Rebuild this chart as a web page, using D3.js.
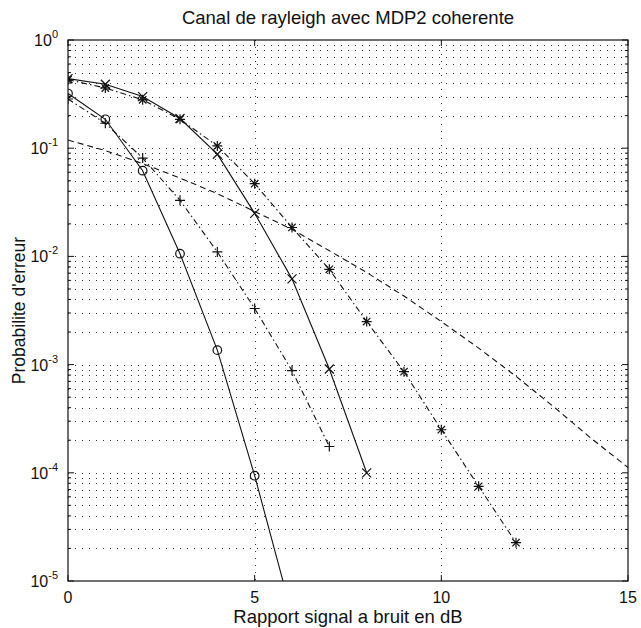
<!DOCTYPE html>
<html>
<head>
<meta charset="utf-8">
<script src="https://cdn.jsdelivr.net/npm/d3@7"></script>
<style>
  body { margin: 0; background: #fff; }
  text { font-family: "Liberation Sans", Arial, Helvetica, sans-serif; fill: #111; }
</style>
</head>
<body>
<div id="chart"></div>
<script>
// semilogy BER curves
var title = "Canal de rayleigh avec MDP2 coherente";
var xTitle = "Rapport signal a bruit en dB";
var yTitle = "Probabilite d'erreur";

var xTicks = [0, 5, 10, 15];
var yExp = [0, -1, -2, -3, -4, -5];

// solid, circles
var snrO = [0, 1, 2, 3, 4, 5, 6];
var berO = [0.32, 0.185, 0.062, 0.0106, 0.00136, 0.000094, 0.0000049];
// dash-dot, plus
var snrP = [0, 1, 2, 3, 4, 5, 6, 7];
var berP = [0.285, 0.17, 0.081, 0.033, 0.011, 0.0033, 0.00088, 0.000175];
// solid, crosses
var snrX = [0, 1, 2, 3, 4, 5, 6, 7, 8];
var berX = [0.44, 0.39, 0.30, 0.188, 0.088, 0.025, 0.0062, 0.00091, 0.0001];
// dash-dot, stars
var snrS = [0, 1, 2, 3, 4, 5, 6, 7, 8, 9, 10, 11, 12];
var berS = [0.43, 0.36, 0.28, 0.185, 0.105, 0.047, 0.0185, 0.0076, 0.0025, 0.00086, 0.00025, 0.000075, 0.0000226];
// dashed, no marker
var snrD = [0, 1, 2, 3, 4, 5, 6, 7, 8, 9, 10, 11, 12, 13, 14, 15];
var berD = [0.119, 0.095, 0.072, 0.053, 0.038, 0.026, 0.0178, 0.0113, 0.0071, 0.0043, 0.0025, 0.00142, 0.00078, 0.00041, 0.00021, 0.000112];

var W = 641, H = 628;
var margin = {left: 68, right: 13, top: 40, bottom: 47};
var iw = W - margin.left - margin.right, ih = H - margin.top - margin.bottom;

var svg = d3.select("#chart").append("svg").attr("width", W).attr("height", H);
var g = svg.append("g").attr("transform", "translate(" + margin.left + "," + margin.top + ")");

var x = d3.scaleLinear().domain([0, 15]).range([0, iw]);
var y = d3.scaleLog().domain([1e-5, 1]).range([ih, 0]);

// minor + major log positions
var yAll = [];
for (var e = -5; e < 0; e++) {
  for (var m = 1; m < 10; m++) yAll.push(m * Math.pow(10, e));
}
yAll.push(1);
var yMinor = yAll.filter(function(v) { return Math.abs(Math.log10(v) - Math.round(Math.log10(v))) > 1e-6; });

// grid
var grid = g.append("g").attr("stroke", "#333").attr("stroke-width", 1).attr("stroke-dasharray", "1,6");
grid.selectAll("line.h").data(yAll.filter(function(v) { return v > 1e-5 && v < 1; })).enter().append("line")
  .attr("x1", 0).attr("x2", iw)
  .attr("y1", function(d) { return Math.round(y(d)) + 0.5; })
  .attr("y2", function(d) { return Math.round(y(d)) + 0.5; });
grid.selectAll("line.v").data([5, 10]).enter().append("line")
  .attr("y1", 0).attr("y2", ih)
  .attr("x1", function(d) { return Math.round(x(d)) + 0.5; })
  .attr("x2", function(d) { return Math.round(x(d)) + 0.5; });

// clip for the curves
g.append("clipPath").attr("id", "clip").append("rect").attr("width", iw).attr("height", ih);
var plot = g.append("g").attr("clip-path", "url(#clip)");

var line = d3.line().x(function(d) { return x(d[0]); }).y(function(d) { return y(d[1]); });

function series(xs, ys, dash, marker) {
  var pts = d3.zip(xs, ys);
  plot.append("path").datum(pts).attr("d", line)
    .attr("fill", "none").attr("stroke", "#111").attr("stroke-width", 1.1)
    .attr("stroke-dasharray", dash);
  if (!marker) return;
  var mk = plot.selectAll(null).data(pts.filter(function(p) { return p[1] >= 1e-5; })).enter().append("g")
    .attr("transform", function(d) { return "translate(" + x(d[0]) + "," + y(d[1]) + ")"; })
    .attr("stroke", "#111").attr("stroke-width", 1.2).attr("fill", "none");
  var s = 5;
  if (marker === "o") mk.append("circle").attr("r", 4.3);
  if (marker === "+" || marker === "*") mk.append("path").attr("d", "M" + (-s) + ",0H" + s + "M0," + (-s) + "V" + s);
  if (marker === "x" || marker === "*") {
    var t = marker === "*" ? 3.7 : 4.5;
    mk.append("path").attr("d", "M" + (-t) + "," + (-t) + "L" + t + "," + t + "M" + (-t) + "," + t + "L" + t + "," + (-t));
  }
}

series(snrD, berD, "6,4", null);
series(snrS, berS, "6,3,1.5,3", "*");
series(snrX, berX, null, "x");
series(snrP, berP, "6,3,1.5,3", "+");
series(snrO, berO, null, "o");

// box
g.append("rect").attr("width", iw).attr("height", ih).attr("fill", "none").attr("stroke", "#111").attr("stroke-width", 1.2);

// ticks, inside on all sides
var tk = g.append("g").attr("stroke", "#111").attr("stroke-width", 1);
xTicks.forEach(function(v) {
  tk.append("line").attr("x1", x(v)).attr("x2", x(v)).attr("y1", ih).attr("y2", ih - 6);
  tk.append("line").attr("x1", x(v)).attr("x2", x(v)).attr("y1", 0).attr("y2", 6);
});
yExp.forEach(function(e) {
  var v = Math.pow(10, e);
  tk.append("line").attr("x1", 0).attr("x2", 6).attr("y1", y(v)).attr("y2", y(v));
  tk.append("line").attr("x1", iw).attr("x2", iw - 6).attr("y1", y(v)).attr("y2", y(v));
});
yMinor.forEach(function(v) {
  tk.append("line").attr("x1", 0).attr("x2", 3).attr("y1", y(v)).attr("y2", y(v));
  tk.append("line").attr("x1", iw).attr("x2", iw - 3).attr("y1", y(v)).attr("y2", y(v));
});

// tick labels
g.selectAll("text.xt").data(xTicks).enter().append("text")
  .attr("x", function(d) { return x(d); }).attr("y", ih + 22)
  .attr("text-anchor", "middle").style("font-size", "16px").text(function(d) { return d; });

var yl = g.selectAll("text.yt").data(yExp).enter().append("text")
  .attr("x", -10).attr("y", function(d) { return y(Math.pow(10, d)) + 6; })
  .attr("text-anchor", "end").style("font-size", "16px");
yl.append("tspan").text("10");
yl.append("tspan").attr("dy", -8).style("font-size", "11px").text(function(d) { return d; });

// titles
svg.append("text").attr("x", margin.left + iw / 2).attr("y", 24).attr("text-anchor", "middle")
  .style("font-size", "18.5px").text(title);
svg.append("text").attr("x", margin.left + iw / 2).attr("y", 623).attr("text-anchor", "middle")
  .style("font-size", "18.5px").text(xTitle);
svg.append("text").attr("transform", "translate(25," + (margin.top + ih / 2) + ") rotate(-90)")
  .attr("text-anchor", "middle").style("font-size", "17.5px").text(yTitle);
</script>
</body>
</html>
